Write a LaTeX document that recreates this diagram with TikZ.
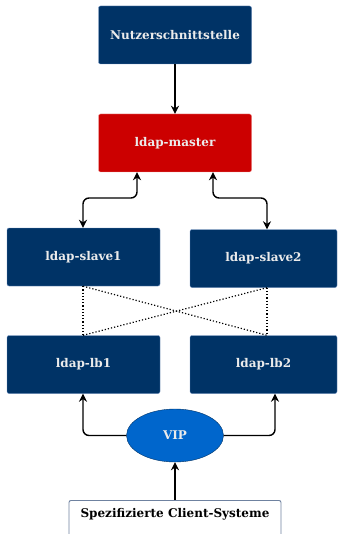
\documentclass[tikz,border=0pt]{standalone}
\usepackage{fontspec}
\setmainfont{DejaVu Serif}
\usetikzlibrary{arrows.meta,shapes.geometric}
\definecolor{navy}{HTML}{003366}
\definecolor{navyline}{HTML}{6C8EBF}
\definecolor{masterred}{HTML}{CC0000}
\definecolor{masterline}{HTML}{F19C99}
\definecolor{vipblue}{HTML}{0066CC}
\definecolor{clientline}{HTML}{6F82A0}
\tikzset{
  lbl/.style={font=\bfseries\fontsize{12}{14}\selectfont},
  box/.style={draw=navyline, fill=navy, rounded corners=2pt, minimum width=153pt,
    minimum height=58pt, text=white!92!black, lbl, inner sep=0pt},
  tip/.style={Stealth[length=8pt,width=8pt]},
  conn/.style={line width=1.4pt, -{Stealth[length=8pt,width=8pt]}, rounded corners=6pt},
  bconn/.style={line width=1.4pt, {Stealth[length=8pt,width=8pt]}-{Stealth[length=8pt,width=8pt]}, rounded corners=6pt},
  dots/.style={line width=1.2pt, dotted}
}
\begin{document}
\begin{tikzpicture}[x=1pt,y=-1pt]
\useasboundingbox (0,0) rectangle (339,534);
\node[box] (ui) at (175,35) {Nutzerschnittstelle};
\node[box, fill=masterred, draw=masterline] (master) at (175,143) {ldap-master};
\node[box] (s1) at (83.5,257) {ldap-slave1};
\node[box, minimum width=147pt] (s2) at (263.5,258.5) {ldap-slave2};
\node[box] (lb1) at (83.5,364.5) {ldap-lb1};
\node[box, minimum width=147pt] (lb2) at (263.5,364.5) {ldap-lb2};
\node[ellipse, draw=navy, fill=vipblue, minimum width=97pt, minimum height=53pt,
  inner sep=0pt, text=white!92!black, lbl] (vip) at (175,435.5) {VIP};
\node[draw=clientline, line width=0.9pt, fill=white, rounded corners=2pt, minimum width=212pt, minimum height=50pt,
  inner sep=0pt, anchor=north] (client) at (175,500) {};
\node[lbl] (clienttext) at (175,514) {Spezifizierte Client-Systeme};

\draw[conn] (ui) -- (master);
\draw[bconn] (master.south -| 137,0) |- (110,198) -| (s1.north -| 83,0);
\draw[bconn] (master.south -| 213,0) |- (240,198) -| (s2.north -| 267,0);

\draw[dots] (s1.south -| 83,0) -- (lb1.north -| 83,0);
\draw[dots] (s2.south -| 267,0) -- (lb2.north -| 267,0);
\draw[dots] (s1.south -| 83,0) -- (lb2.north -| 267,0);
\draw[dots] (s2.south -| 267,0) -- (lb1.north -| 83,0);

\draw[conn] (vip.west) -| (lb1.south -| 83,0);
\draw[conn] (vip.east) -| (lb2.south -| 275,0);
\draw[conn] (client.north) -- (vip.south);
\end{tikzpicture}
\end{document}
